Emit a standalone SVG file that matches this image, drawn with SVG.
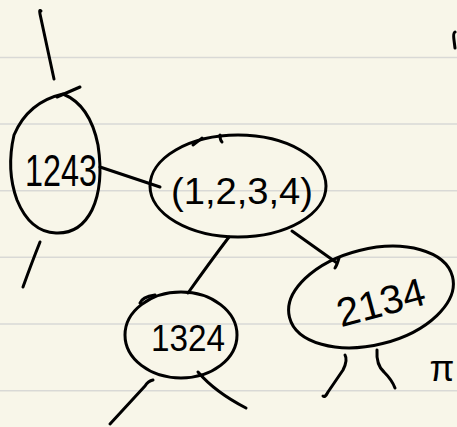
<svg xmlns="http://www.w3.org/2000/svg" width="457" height="427" viewBox="0 0 457 427">
<style>
.s{fill:none;stroke:#000;stroke-width:3;stroke-linecap:round;stroke-linejoin:round}
.t{font-family:"Liberation Sans",sans-serif;fill:#000;text-anchor:middle}
.rule{stroke:#d9d9d6;stroke-width:1.5}
</style>
<rect width="457" height="427" fill="#f8f6e9"/>
<g id="paper">
<line class="rule" x1="0" y1="57.5" x2="457" y2="57.5"/>
<line class="rule" x1="0" y1="124" x2="457" y2="124"/>
<line class="rule" x1="0" y1="190.7" x2="457" y2="190.7"/>
<line class="rule" x1="0" y1="257.3" x2="457" y2="257.3"/>
<line class="rule" x1="0" y1="324" x2="457" y2="324"/>
<line class="rule" x1="0" y1="390.7" x2="457" y2="390.7"/>
</g>
<g id="connectors">
<path class="s" d="M41,11 Q39,9 40,14 L54,79"/>
<path class="s" d="M100,167 L160,187"/>
<path class="s" d="M229,237 Q210,262 188,293"/>
<path class="s" d="M292,231 L337,263 M339,258 Q337,265 335,268"/>
<path class="s" d="M40,242 Q32,262 23,287"/>
<path class="s" d="M153,380 Q148,381 145,386 L110,424"/>
<path class="s" d="M198,372 Q215,392 246,408"/>
<path class="s" d="M345,355 Q348,360 343,370 L328,392 Q325,398 323,396"/>
<path class="s" d="M377,350 Q376,365 384,372 Q392,380 395,388"/>
</g>
<g id="n1243">
<path class="s" d="M63,94 Q90,105 98,145 Q104,185 92,210 Q80,234 56,233 Q30,232 17,200 Q6,170 14,135 Q28,102 63,94 Z"/>
<path class="s" d="M57,97 L80,87"/>
<text class="t" x="61" y="186" font-size="44" textLength="72" lengthAdjust="spacingAndGlyphs">1243</text>
</g>
<g id="n1234">
<ellipse class="s" cx="238" cy="186" rx="88" ry="51"/>
<path class="s" d="M193,145 Q200,140 202,138 M220,135 Q220,140 222,142"/>
<text class="t" x="242" y="204" font-size="36" textLength="142" lengthAdjust="spacingAndGlyphs">(1,2,3,4)</text>
</g>
<g id="n1324">
<ellipse class="s" cx="181" cy="335" rx="56" ry="43"/>
<path class="s" d="M140,303 Q142,297 155,295"/>
<text class="t" x="188" y="351" font-size="36" textLength="74" lengthAdjust="spacingAndGlyphs">1324</text>
</g>
<g id="n2134">
<ellipse class="s" cx="371" cy="297" rx="84" ry="48" transform="rotate(-14 371 297)"/>
<text class="t" x="381" y="316" font-size="40" textLength="90" lengthAdjust="spacingAndGlyphs" transform="rotate(-15 381 303)">2134</text>
</g>
<g id="marks">
<path class="s" d="M455,32 Q453,33 454,40 L455,48"/>
<text class="t" x="442" y="381" font-size="36">π</text>
</g>
</svg>
